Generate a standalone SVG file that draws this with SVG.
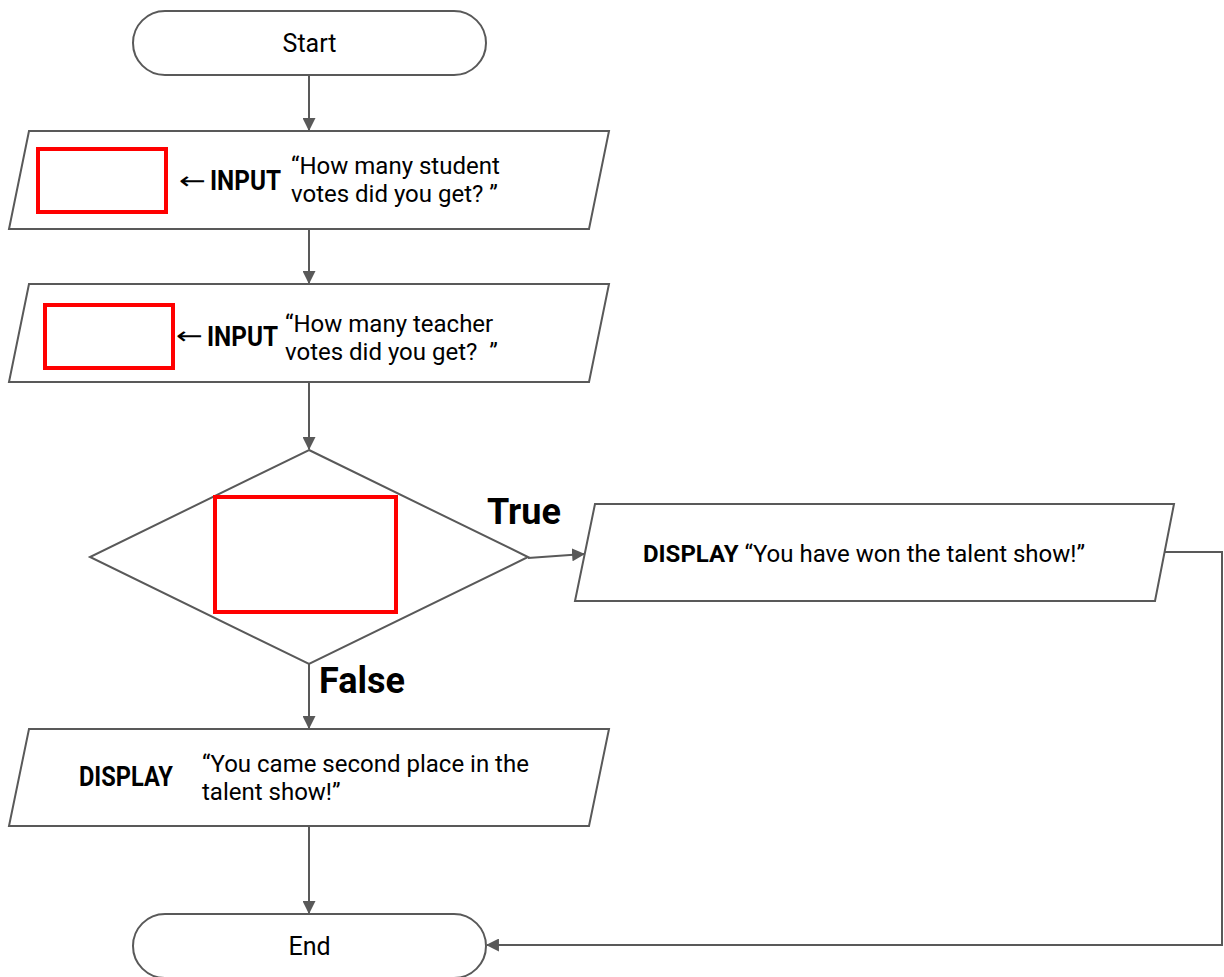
<svg xmlns="http://www.w3.org/2000/svg" width="1224" height="977" viewBox="0 0 1224 977">
  <style>
    .shape { fill: #ffffff; stroke: #595959; stroke-width: 2; }
    .slot { fill: none; stroke: #ff0000; stroke-width: 4; }
    .edge { fill: none; stroke: #595959; stroke-width: 2; }
    .txt { font-family: Roboto, "Liberation Sans", sans-serif; font-size: 24px; fill: #000000; }
    .term { font-family: Roboto, "Liberation Sans", sans-serif; font-size: 25px; fill: #000000; }
    .b { font-weight: bold; }
    .kw { font-family: Roboto, "Liberation Sans", sans-serif; font-size: 27px; font-weight: bold; fill: #000000; }
    .sym { font-family: "DejaVu Sans", sans-serif; font-size: 24px; fill: #000000; }
    .big { font-family: Roboto, "Liberation Sans", sans-serif; font-size: 36px; font-weight: bold; fill: #000000; }
  </style>
  <defs>
    <marker id="arrow" viewBox="0 0 12 12" refX="11" refY="6" markerWidth="13" markerHeight="13" markerUnits="userSpaceOnUse" orient="auto">
      <path d="M0,0 L12,6 L0,12 Z" fill="#595959"/>
    </marker>
  </defs>

  <rect width="1224" height="977" fill="#ffffff"/>

  <!-- connectors -->
  <g id="connectors">
    <line class="edge" x1="309" y1="75" x2="309" y2="130" marker-end="url(#arrow)"/>
    <line class="edge" x1="309" y1="229" x2="309" y2="283" marker-end="url(#arrow)"/>
    <line class="edge" x1="309" y1="382" x2="309" y2="449" marker-end="url(#arrow)"/>
    <line class="edge" x1="528" y1="558" x2="584" y2="554" marker-end="url(#arrow)"/>
    <line class="edge" x1="309" y1="664" x2="309" y2="728" marker-end="url(#arrow)"/>
    <line class="edge" x1="309" y1="826" x2="309" y2="913" marker-end="url(#arrow)"/>
    <polyline class="edge" points="1164,552 1222,552 1222,945 487,945" marker-end="url(#arrow)"/>
  </g>

  <!-- start terminal -->
  <g id="start">
    <rect class="shape" x="133" y="11" width="353" height="64" rx="32" ry="32"/>
    <text class="term" x="309.5" y="52" text-anchor="middle">Start</text>
  </g>

  <!-- first input -->
  <g id="input-student">
    <polygon class="shape" points="29,131 609,131 589,229 9,229"/>
    <rect class="slot" x="38" y="149" width="128" height="63"/>
    <text class="sym" x="179" y="189" textLength="27" lengthAdjust="spacingAndGlyphs">←</text>
    <text class="kw" x="210" y="190" textLength="71" lengthAdjust="spacingAndGlyphs">INPUT</text>
    <text class="txt" x="291" y="174">“How many student</text>
    <text class="txt" x="291" y="202">votes did you get? ”</text>
  </g>

  <!-- second input -->
  <g id="input-teacher">
    <polygon class="shape" points="29,284 609,284 589,382 9,382"/>
    <rect class="slot" x="45" y="305" width="128" height="63"/>
    <text class="sym" x="176" y="344" textLength="27" lengthAdjust="spacingAndGlyphs">←</text>
    <text class="kw" x="207" y="346" textLength="71" lengthAdjust="spacingAndGlyphs">INPUT</text>
    <text class="txt" x="285" y="332">“How many teacher</text>
    <text class="txt" x="285" y="360" xml:space="preserve">votes did you get?  ”</text>
  </g>

  <!-- decision -->
  <g id="decision">
    <polygon class="shape" points="309,450 528,557 309,664 90,557"/>
    <rect class="slot" x="215" y="497" width="181" height="115"/>
  </g>

  <g id="branch-labels">
    <text class="big" x="487" y="524">True</text>
    <text class="big" x="319" y="693">False</text>
  </g>

  <!-- winning output -->
  <g id="display-won">
    <polygon class="shape" points="595,504 1174,504 1155,601 575,601"/>
    <text class="txt" x="643" y="562"><tspan class="b">DISPLAY</tspan> “You have won the talent show!”</text>
  </g>

  <!-- second place output -->
  <g id="display-second">
    <polygon class="shape" points="29,729 609,729 589,826 9,826"/>
    <text class="kw" x="79" y="786" textLength="94" lengthAdjust="spacingAndGlyphs">DISPLAY</text>
    <text class="txt" x="202" y="772">“You came second place in the</text>
    <text class="txt" x="202" y="800">talent show!”</text>
  </g>

  <!-- end terminal -->
  <g id="end">
    <rect class="shape" x="133" y="914" width="353" height="64" rx="32" ry="32"/>
    <text class="term" x="309.5" y="955" text-anchor="middle">End</text>
  </g>
</svg>
